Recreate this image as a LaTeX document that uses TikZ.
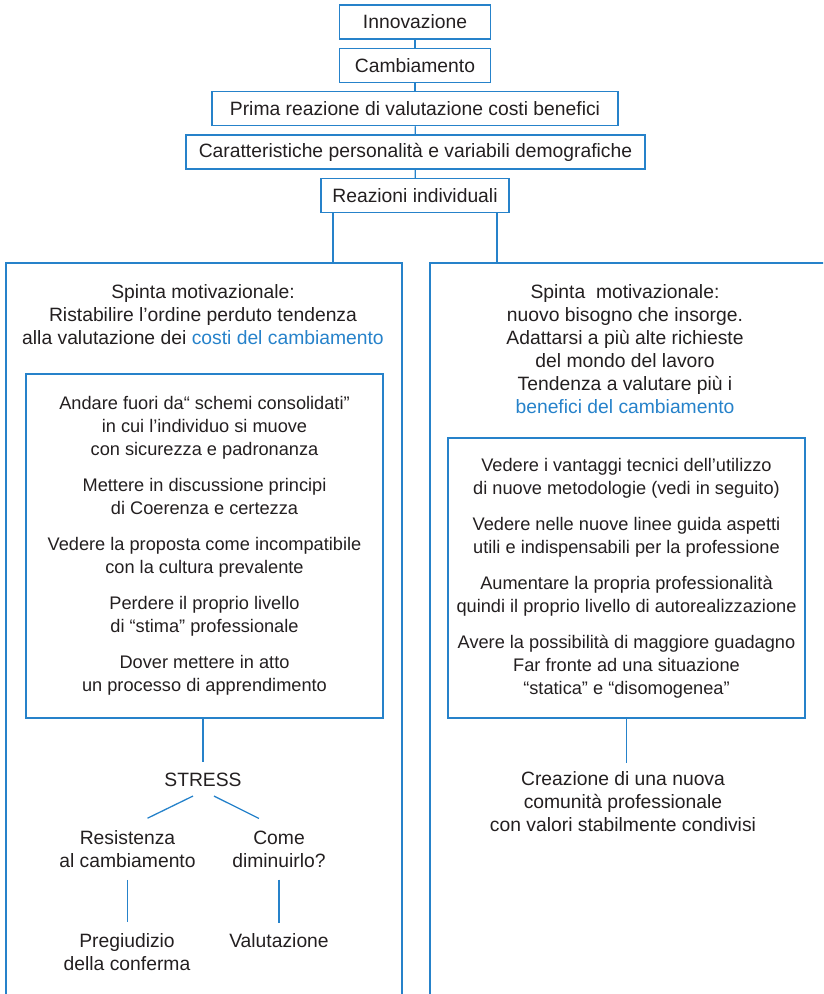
\documentclass[tikz,border=0pt]{standalone}
\usepackage{fontspec}
\setmainfont{Liberation Sans}
\definecolor{flowblue}{RGB}{38,130,202}
\definecolor{flowtext}{RGB}{35,31,32}
\newcommand{\bigtxt}{\fontsize{19.3pt}{23pt}\selectfont}
\newcommand{\smalltxt}{\fontsize{18.2pt}{23pt}\selectfont}
\tikzset{
  flowbox/.style={draw=flowblue, line width=1.5pt, minimum height=34pt, inner sep=0pt, text=flowtext, font=\bigtxt},
  colbox/.style={draw=flowblue, line width=1.5pt, inner sep=0pt, anchor=north west, minimum height=780pt},
  txt/.style={align=center, inner sep=0pt, text=flowtext, font=\bigtxt},
  link/.style={draw=flowblue, line width=1.3pt},
}
\begin{document}
\begin{tikzpicture}[x=1pt,y=-1pt]
\useasboundingbox (0,0) rectangle (823,994);
\clip (0,0) rectangle (823,994);
\node[flowbox, minimum width=151pt] (innov) at (415,22) {Innovazione};
\node[flowbox, minimum width=151pt] (camb) at (415,65.5) {Cambiamento};
\node[flowbox, minimum width=406pt] (prima) at (415,108.5) {Prima reazione di valutazione costi benefici};
\node[flowbox, minimum width=459pt] (caratt) at (415.5,152) {Caratteristiche personalità e variabili demografiche};
\node[flowbox, minimum width=188pt] (reaz) at (415,195.5) {Reazioni individuali};
\foreach \a/\b in {innov/camb,camb/prima,prima/caratt,caratt/reaz}
  \draw[link] (\a) -- (\b);

\node[colbox, minimum width=396pt] (leftcol) at (5,262) {};
\node[colbox, minimum width=430pt] (rightcol) at (429,262) {};
\draw[link] ([xshift=-82pt]reaz.south) -- ([xshift=-82pt]reaz.south |- leftcol.north);
\draw[link] ([xshift=82pt]reaz.south) -- ([xshift=82pt]reaz.south |- rightcol.north);

\node[txt] (lefthead) at (203,315) {Spinta motivazionale:\\ Ristabilire l’ordine perduto tendenza\\ alla valutazione dei \textcolor{flowblue}{costi del cambiamento}};
\node[txt] (righthead) at (625,349.5) {Spinta\ \ motivazionale:\\ nuovo bisogno che insorge.\\ Adattarsi a più alte richieste\\ del mondo del lavoro\\ Tendenza a valutare più i\\ \textcolor{flowblue}{benefici del cambiamento}};

\node[flowbox, align=center, font=\smalltxt, minimum width=357pt, minimum height=344pt] (leftin) at (204.5,546) {Andare fuori da“ schemi consolidati”\\ in cui l’individuo si muove\\ con sicurezza e padronanza\\[13pt] Mettere in discussione principi\\ di Coerenza e certezza\\[13pt] Vedere la proposta come incompatibile\\ con la cultura prevalente\\[13pt] Perdere il proprio livello\\ di “stima” professionale\\[13pt] Dover mettere in atto\\ un processo di apprendimento};
\node[flowbox, align=center, font=\smalltxt, minimum width=357pt, minimum height=280pt] (rightin) at (626.5,578) {Vedere i vantaggi tecnici dell’utilizzo\\ di nuove metodologie (vedi in seguito)\\[13pt] Vedere nelle nuove linee guida aspetti\\ utili e indispensabili per la professione\\[13pt] Aumentare la propria professionalità\\ quindi il proprio livello di autorealizzazione\\[13pt] Avere la possibilità di maggiore guadagno\\ Far fronte ad una situazione\\ “statica” e “disomogenea”};

\node[txt] (stress) at (203,780) {STRESS};
\node[txt] (resist) at (127.5,849) {Resistenza\\ al cambiamento};
\node[txt] (come) at (279,849) {Come\\ diminuirlo?};
\node[txt] (preg) at (127,952) {Pregiudizio\\ della conferma};
\node[txt] (valut) at (279,941) {Valutazione};
\node[txt] (creaz) at (623,802) {Creazione di una nuova\\ comunità professionale\\ con valori stabilmente condivisi};

\draw[link] (stress.north |- leftin.south) -- ([yshift=11pt]stress.north);
\draw[link] ([xshift=-10pt,yshift=-9pt]stress.south) -- ([xshift=20pt,yshift=12pt]resist.north);
\draw[link] ([xshift=11pt,yshift=-9pt]stress.south) -- ([xshift=-20pt,yshift=12pt]come.north);
\draw[link] ([yshift=-12pt]resist.south) -- ([yshift=11pt]resist.south |- preg.north);
\draw[link] ([yshift=-12pt]come.south) -- ([yshift=11pt]come.south |- valut.north);
\draw[link] (rightin.south) -- ([yshift=9pt]rightin.south |- creaz.north);
\end{tikzpicture}
\end{document}
